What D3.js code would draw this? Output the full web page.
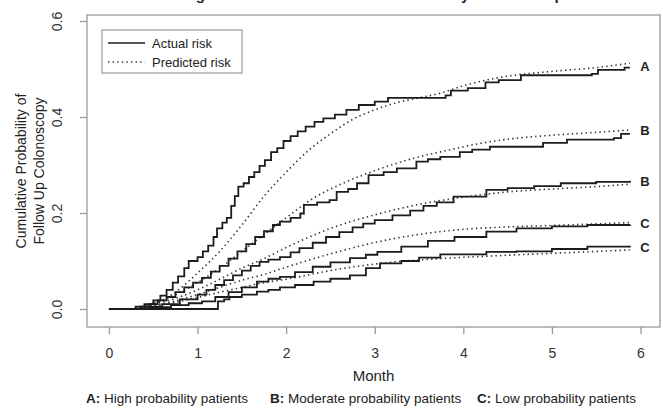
<!DOCTYPE html>
<html lang="en">
<head>
<meta charset="UTF-8">
<title>Cumulative Probability of Follow Up Colonoscopy</title>
<script src="https://d3js.org/d3.v7.min.js"></script>
<style>
    body { margin: 0; background: #fff; font-family: "Liberation Sans", Arial, sans-serif; }
    svg text { fill: #222; }
    .frame { fill: none; stroke: #999; stroke-width: 1.3; }
    .axis path { display: none; }
    .axis line { stroke: #999; stroke-width: 1.3; }
    .axis text { font-size: 14px; fill: #333; font-family: "Liberation Sans", Arial, sans-serif; }
    .actual { fill: none; stroke: #1c1c1c; stroke-width: 1.8; }
    .predicted { fill: none; stroke: #333; stroke-width: 1.6; stroke-dasharray: 1.4 3.2; }
</style>
</head>
<body>
<svg id="chart" width="663" height="411"></svg>
<script>
    // months since index colonoscopy, cumulative probability
    const actualA = [[0,0],[0.30,0.005],[0.40,0.01],[0.50,0.018],[0.58,0.028],[0.65,0.04],[0.72,0.055],[0.78,0.068],
        [0.85,0.085],[0.90,0.10],[1.0,0.108],[1.06,0.12],[1.12,0.132],[1.18,0.15],[1.22,0.168],[1.28,0.18],[1.33,0.19],
        [1.38,0.215],[1.42,0.235],[1.46,0.255],[1.52,0.262],[1.58,0.275],[1.64,0.285],[1.70,0.298],[1.76,0.31],
        [1.83,0.327],[1.90,0.335],[1.97,0.35],[2.05,0.36],[2.13,0.37],[2.22,0.38],[2.32,0.39],[2.42,0.397],[2.55,0.405],
        [2.68,0.415],[2.82,0.425],[3.0,0.432],[3.15,0.44],[3.80,0.445],[3.86,0.455],[4.05,0.46],[4.25,0.472],
        [4.40,0.477],[4.65,0.487],[5.45,0.49],[5.52,0.498],[5.82,0.503],[5.88,0.503]];
    const predictedA = [[0,0],[0.25,0],[0.5,0.01],[0.75,0.035],[1.0,0.075],[1.25,0.12],[1.5,0.175],[1.75,0.235],
        [2.0,0.285],[2.25,0.33],[2.5,0.365],[2.75,0.395],[3.0,0.415],[3.25,0.43],[3.5,0.44],[3.75,0.45],[4.0,0.465],
        [4.5,0.485],[5.0,0.495],[5.5,0.503],[5.88,0.512]];

    const actualB1 = [[0,0],[0.35,0.005],[0.45,0.01],[0.55,0.018],[0.65,0.025],[0.75,0.035],[0.85,0.045],[0.95,0.055],
        [1.05,0.065],[1.15,0.078],[1.25,0.09],[1.35,0.105],[1.45,0.12],[1.55,0.135],[1.65,0.15],[1.75,0.162],
        [1.85,0.175],[1.93,0.182],[2.05,0.19],[2.16,0.199],[2.2,0.217],[2.35,0.222],[2.49,0.227],[2.57,0.244],
        [2.70,0.25],[2.80,0.262],[2.93,0.279],[3.1,0.285],[3.25,0.293],[3.47,0.307],[3.6,0.312],[3.74,0.317],
        [3.96,0.327],[4.1,0.332],[4.30,0.338],[4.90,0.346],[5.17,0.353],[5.70,0.356],[5.78,0.365],[5.88,0.365]];
    const predictedB1 = [[0,0],[0.25,0],[0.5,0.012],[0.75,0.03],[1.0,0.055],[1.25,0.085],[1.5,0.12],[1.75,0.155],
        [2.0,0.19],[2.3,0.23],[2.68,0.265],[3.06,0.292],[3.44,0.314],[3.81,0.33],[4.19,0.345],[4.56,0.355],
        [5.0,0.362],[5.5,0.368],[5.88,0.373]];

    const actualB2 = [[0,0],[0.4,0.005],[0.6,0.01],[0.8,0.02],[1.0,0.03],[1.1,0.04],[1.2,0.05],[1.3,0.06],[1.4,0.07],
        [1.5,0.08],[1.6,0.09],[1.7,0.098],[1.8,0.103],[1.93,0.108],[2.05,0.118],[2.15,0.127],[2.3,0.138],[2.45,0.15],
        [2.6,0.16],[2.75,0.17],[2.87,0.178],[3.0,0.185],[3.2,0.195],[3.4,0.205],[3.55,0.215],[3.7,0.222],
        [3.89,0.234],[4.26,0.248],[4.5,0.252],[4.8,0.256],[5.1,0.262],[5.5,0.265],[5.88,0.267]];
    const predictedB2 = [[0,0],[0.25,0],[0.5,0.01],[0.75,0.022],[1.0,0.04],[1.25,0.062],[1.5,0.085],[1.75,0.105],
        [2.0,0.128],[2.5,0.168],[3.06,0.199],[3.5,0.218],[4.0,0.233],[4.5,0.244],[5.0,0.25],[5.5,0.255],[5.88,0.26]];

    const actualC1 = [[0,0],[0.45,0.004],[0.7,0.008],[0.9,0.012],[1.05,0.016],[1.2,0.025],[1.35,0.035],[1.5,0.045],
        [1.67,0.057],[1.8,0.063],[1.93,0.067],[2.1,0.077],[2.3,0.088],[2.5,0.097],[2.72,0.106],[2.9,0.113],
        [3.03,0.119],[3.3,0.13],[3.6,0.142],[3.9,0.15],[4.26,0.161],[4.6,0.168],[5.0,0.172],[5.4,0.175],[5.88,0.176]];
    const predictedC1 = [[0,0],[0.25,0],[0.5,0.007],[0.75,0.017],[1.0,0.03],[1.25,0.045],[1.5,0.06],[1.75,0.072],
        [2.0,0.087],[2.5,0.115],[3.17,0.145],[3.6,0.158],[4.0,0.166],[4.5,0.171],[5.0,0.174],[5.88,0.18]];

    const actualC2 = [[0,0],[1.23,0.016],[1.3,0.02],[1.36,0.025],[1.5,0.03],[1.67,0.036],[1.8,0.04],[1.93,0.045],
        [2.1,0.05],[2.31,0.057],[2.5,0.063],[2.72,0.07],[2.9,0.085],[3.06,0.095],[3.3,0.1],[3.5,0.107],[3.74,0.114],
        [4.26,0.119],[4.6,0.12],[5.0,0.125],[5.4,0.13],[5.88,0.132]];
    const predictedC2 = [[0,0],[0.25,0],[0.5,0.006],[0.75,0.014],[1.0,0.024],[1.25,0.035],[1.5,0.045],[1.75,0.055],
        [2.0,0.062],[2.5,0.08],[3.06,0.095],[3.74,0.105],[4.5,0.112],[5.0,0.116],[5.5,0.12],[5.88,0.123]];

    const groupLabels = ["A", "B", "B", "C", "C"];
    const groupLabelValues = [0.505, 0.372, 0.265, 0.178, 0.128];
    const xTicks = [0, 1, 2, 3, 4, 5, 6];
    const yTicks = [0, 0.2, 0.4, 0.6];
    const legendLabels = ["Actual risk", "Predicted risk"];
    const captionParts = [["A:", " High probability patients"], ["B:", " Moderate probability patients"], ["C:", " Low probability patients"]];

    const svg = d3.select("#chart");
    const box = { left: 87, right: 660, top: 15, bottom: 327 };

    const x = d3.scaleLinear().domain([-0.248, 6.22]).range([box.left, box.right]);
    const y = d3.scaleLinear().domain([-0.0375, 0.6125]).range([box.bottom, box.top]);

    // title, clipped at the top edge of the figure as in the source image
    svg.append("text")
        .attr("x", 373).attr("y", 0)
        .attr("text-anchor", "middle")
        .style("font-size", "15px").style("font-weight", "bold")
        .text("Figure 2. Actual vs Predicted Probability of Follow Up");

    svg.append("rect").attr("class", "frame")
        .attr("x", box.left).attr("y", box.top)
        .attr("width", box.right - box.left).attr("height", box.bottom - box.top);

    svg.append("g").attr("class", "axis")
        .attr("transform", `translate(0,${box.bottom})`)
        .call(d3.axisBottom(x).tickValues(xTicks).tickSize(7).tickPadding(14).tickFormat(d3.format("d")));

    const yAxis = svg.append("g").attr("class", "axis")
        .attr("transform", `translate(${box.left},0)`)
        .call(d3.axisLeft(y).tickValues(yTicks).tickSize(7).tickFormat(d3.format(".1f")));
    yAxis.selectAll("text")
        .attr("x", 0).attr("dy", null)
        .attr("text-anchor", "middle")
        .attr("transform", "translate(-25,0) rotate(-90)");

    const yMid = (box.top + box.bottom) / 2;
    svg.append("text").attr("text-anchor", "middle")
        .attr("transform", `translate(26,${yMid}) rotate(-90)`)
        .style("font-size", "14px").text("Cumulative Probability of");
    svg.append("text").attr("text-anchor", "middle")
        .attr("transform", `translate(44,${yMid}) rotate(-90)`)
        .style("font-size", "14px").text("Follow Up Colonoscopy");

    svg.append("text").attr("x", (box.left + box.right) / 2).attr("y", 381)
        .attr("text-anchor", "middle").style("font-size", "15px").text("Month");

    const stepLine = d3.line().x(d => x(d[0])).y(d => y(d[1])).curve(d3.curveStepAfter);
    const smoothLine = d3.line().x(d => x(d[0])).y(d => y(d[1])).curve(d3.curveMonotoneX);

    const predictedSeries = [predictedA, predictedB1, predictedB2, predictedC1, predictedC2];
    const actualSeries = [actualA, actualB1, actualB2, actualC1, actualC2];

    svg.selectAll(".predicted").data(predictedSeries).enter()
        .append("path").attr("class", "predicted").attr("d", smoothLine);
    svg.selectAll(".actual").data(actualSeries).enter()
        .append("path").attr("class", "actual").attr("d", stepLine);

    svg.selectAll(".group-label").data(groupLabels).enter()
        .append("text").attr("class", "group-label")
        .attr("x", x(6.05)).attr("y", (d, i) => y(groupLabelValues[i]))
        .attr("dy", "0.35em").attr("text-anchor", "middle")
        .style("font-size", "13px").style("font-weight", "bold")
        .text(d => d);

    // legend
    const legend = svg.append("g").attr("transform", "translate(102,30)");
    legend.append("rect").attr("width", 140).attr("height", 43)
        .attr("fill", "#fff").attr("stroke", "#999").attr("stroke-width", 1.2);
    legendLabels.forEach((label, i) => {
        const ly = 13 + i * 19;
        legend.append("line").attr("class", i === 0 ? "actual" : "predicted")
            .attr("x1", 6).attr("x2", 43).attr("y1", ly).attr("y2", ly)
            .style("stroke-width", i === 0 ? 1.3 : 1.4);
        legend.append("text").attr("x", 50).attr("y", ly).attr("dy", "0.35em")
            .style("font-size", "13px").text(label);
    });

    // caption under the axis title
    const captionX = [86, 270, 477];
    captionParts.forEach((part, i) => {
        const t = svg.append("text").attr("x", captionX[i]).attr("y", 403).style("font-size", "13.5px");
        t.append("tspan").style("font-weight", "bold").text(part[0]);
        t.append("tspan").text(part[1]);
    });
</script>
</body>
</html>
